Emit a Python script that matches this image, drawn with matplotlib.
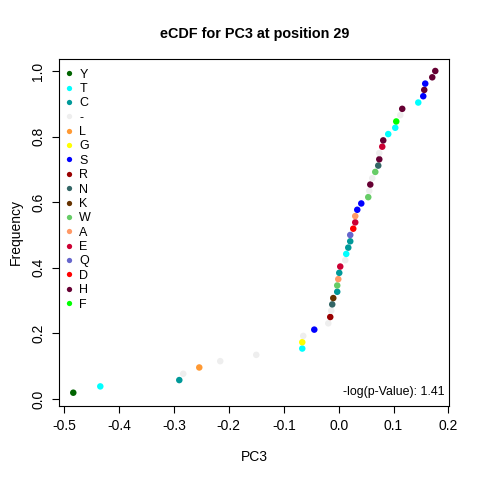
import matplotlib
matplotlib.use("Agg")
import matplotlib.pyplot as plt
from matplotlib.lines import Line2D
import numpy as np

plt.rcParams['font.family'] = ['Liberation Sans', 'DejaVu Sans']

# residue legend (order as in the chart)
legend_res = ["Y", "T", "C", "-", "L", "G", "S", "R", "N", "K", "W", "A", "E", "Q", "D", "H", "F"]
legend_col = ["#006400", "#00FFFF", "#009999", "#EEEEEE", "#FF9933", "#FFFF00", "#0000FF",
              "#990000", "#336666", "#663300", "#66CC66", "#FF9966", "#CC0033", "#6666CC",
              "#FF0000", "#660033", "#00FF00"]
res_color = dict(zip(legend_res, legend_col))

# PC3 values (sorted) and residue of each observation
pc3 = [-0.4834, -0.4342, -0.2903, -0.2831, -0.2539, -0.2157, -0.1501, -0.0663, -0.0663,
       -0.0645, -0.0444, -0.0189, -0.0153, -0.0135, -0.0117, -0.0098, -0.0026, -0.0026,
       -0.0007, 0.0011, 0.0029, 0.0120, 0.0138, 0.0175, 0.0211, 0.0211, 0.0266, 0.0302,
       0.0302, 0.0339, 0.0412, 0.0539, 0.0557, 0.0576, 0.0612, 0.0667, 0.0721, 0.0740,
       0.0740, 0.0794, 0.0812, 0.0903, 0.1031, 0.1049, 0.1122, 0.1158, 0.1450, 0.1541,
       0.1559, 0.1577, 0.1705, 0.1760]
residues = ["Y", "T", "C", "-", "L", "-", "-", "T", "G", "-", "S", "-", "R", "-", "N", "K",
            "C", "W", "A", "C", "E", "-", "T", "C", "C", "Q", "D", "E", "A", "S", "S", "W",
            "-", "H", "-", "W", "N", "H", "-", "E", "H", "T", "T", "F", "-", "H", "T", "S",
            "H", "S", "H", "H"]
pvalue_text = "-log(p-Value): 1.41"

x = np.array(pc3)
n = len(x)
freq = np.arange(1, n + 1) / n
cols = [res_color[r] for r in residues]

fig = plt.figure(figsize=(4.8, 4.8), dpi=100)
ax = fig.add_axes([0.1235, 0.1552, 0.8125, 0.7213])

ax.scatter(x, freq, c=cols, s=22, linewidths=0, zorder=3)

ax.set_xlim(-0.5089, 0.2015)
ax.set_ylim(-0.0198, 1.0357)
ax.set_xticks(np.arange(-0.5, 0.21, 0.1))
ax.set_xticklabels(["-0.5", "-0.4", "-0.3", "-0.2", "-0.1", "0.0", "0.1", "0.2"])
ax.set_yticks([0.0, 0.2, 0.4, 0.6, 0.8, 1.0])
ax.set_yticklabels(["0.0", "0.2", "0.4", "0.6", "0.8", "1.0"], rotation=90, va="center")
ax.tick_params(direction="out", length=5, width=0.8, labelsize=10, pad=5)
for sp in ax.spines.values():
    sp.set_linewidth(0.8)

ax.set_xlabel("PC3", fontsize=10, labelpad=12)
ax.set_ylabel("Frequency", fontsize=10, labelpad=6)
ax.set_title("eCDF for PC3 at position 29", fontsize=10.4, fontweight="bold", pad=15)

handles = [Line2D([0], [0], marker="o", linestyle="", markersize=3.8,
                  markerfacecolor=c, markeredgewidth=0) for c in legend_col]
ax.legend(handles, legend_res, loc="upper left", bbox_to_anchor=(-0.008, 0.995),
          frameon=False, fontsize=9, handlelength=0.8, handletextpad=0.45,
          labelspacing=0.19, borderaxespad=0.2)

ax.text(0.987, 0.022, pvalue_text, transform=ax.transAxes, ha="right", va="bottom",
        fontsize=8.9)

fig.savefig("out.png", dpi=100)
